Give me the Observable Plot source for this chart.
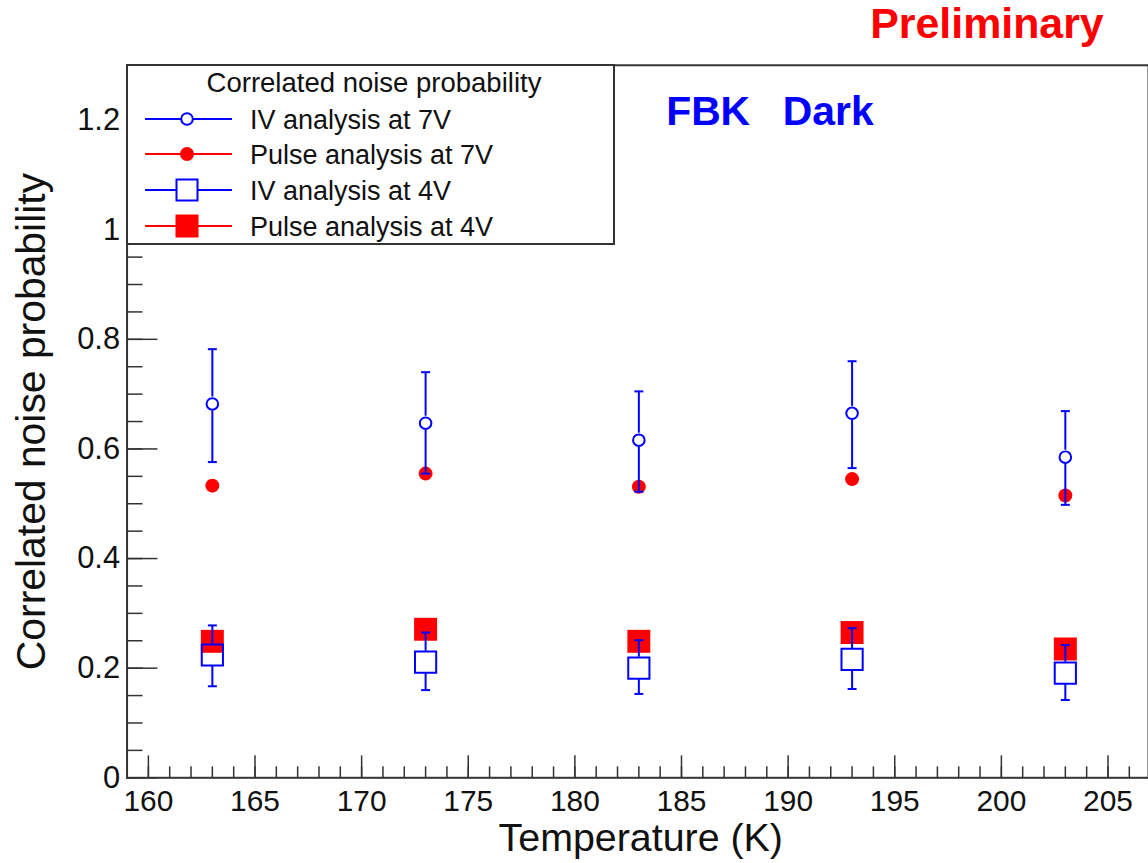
<!DOCTYPE html>
<html><head><meta charset="utf-8">
<script src="https://cdn.jsdelivr.net/npm/d3@7"></script>
<script src="https://cdn.jsdelivr.net/npm/@observablehq/plot@0.6"></script>
<style>
html,body{margin:0;padding:0;background:#fff;}
#wrap{position:relative;width:1148px;height:863px;overflow:hidden;font-family:"Liberation Sans",Arial,sans-serif;}
#chart{position:absolute;left:0;top:0;}
#legend{position:absolute;left:126px;top:64px;}
</style></head><body>
<div id="wrap"><div id="chart"></div><div id="legend"></div></div>
<script>
// ---- data ----
const temperatures = [163, 173, 183, 193, 203];
const ivAt7V      = [0.682, 0.647, 0.616, 0.665, 0.585];
const ivAt7VHigh  = [0.782, 0.740, 0.705, 0.760, 0.669];
const ivAt7VLow   = [0.576, 0.555, 0.522, 0.565, 0.498];
const pulseAt7V   = [0.533, 0.555, 0.531, 0.545, 0.515];
const ivAt4V      = [0.224, 0.211, 0.200, 0.216, 0.191];
const ivAt4VHigh  = [0.278, 0.265, 0.251, 0.273, 0.242];
const ivAt4VLow   = [0.167, 0.160, 0.153, 0.162, 0.142];
const pulseAt4V   = [0.249, 0.271, 0.249, 0.265, 0.235];

const xMajorTicks = [160, 165, 170, 175, 180, 185, 190, 195, 200, 205];
const xMinorTicks = d3.range(160, 207, 1);
const yMajorTicks = [0, 0.2, 0.4, 0.6, 0.8, 1, 1.2];
const yMinorTicks = d3.range(0, 1.2751, 0.05);

const legendTitle = "Correlated noise probability";
const seriesNames = ["IV analysis at 7V", "Pulse analysis at 7V", "IV analysis at 4V", "Pulse analysis at 4V"];
const xTitle = "Temperature (K)";
const yTitle = "Correlated noise probability";

// ---- styles ----
const BLUE = "#0000ff", RED = "#ff0000", AX = "#333";
const W = 1152, H = 863, ML = 127, MR = 0, MT = 65, MB = 83;
const frameW = W - ML - MR, frameH = H - MT - MB;
const FONT = "'Liberation Sans', Arial, Helvetica, sans-serif";

const rows = temperatures.map((t, i) => ({
  t, iv7: ivAt7V[i], iv7hi: ivAt7VHigh[i], iv7lo: ivAt7VLow[i], p7: pulseAt7V[i],
  iv4: ivAt4V[i], iv4hi: ivAt4VHigh[i], iv4lo: ivAt4VLow[i], p4: pulseAt4V[i]
}));

const capSymbol = {draw(ctx, size) { const w = Math.sqrt(size / Math.PI); ctx.moveTo(-w, 0); ctx.lineTo(w, 0); }};

const chart = Plot.plot({
  width: W, height: H,
  marginLeft: ML, marginRight: MR, marginTop: MT, marginBottom: MB,
  x: {domain: [159, 206.9], axis: null},
  y: {domain: [0, 1.3], axis: null},
  style: {fontFamily: FONT, background: "white", color: "#111", overflow: "visible"},
  marks: [
    // inward ticks
    Plot.tickX(xMinorTicks, {x: d => d, stroke: AX, strokeWidth: 1.5, insetTop: frameH - 11}),
    Plot.tickX(xMajorTicks, {x: d => d, stroke: AX, strokeWidth: 1.5, insetTop: frameH - 22}),
    Plot.tickY(yMinorTicks, {y: d => d, stroke: AX, strokeWidth: 1.5, insetRight: frameW - 16}),
    Plot.tickY(yMajorTicks, {y: d => d, stroke: AX, strokeWidth: 1.5, insetRight: frameW - 31}),
    Plot.frame({stroke: AX, strokeWidth: 2}),
    // tick labels
    Plot.text(xMajorTicks, {x: d => d, text: d => String(d), frameAnchor: "bottom", lineAnchor: "middle", dy: 23.5, fontSize: 30, fill: "#111"}),
    Plot.text(yMajorTicks, {y: d => d, text: d => String(d), frameAnchor: "left", textAnchor: "end", lineAnchor: "middle", dx: -7, fontSize: 31, fill: "#111"}),
    // axis titles
    Plot.text([xTitle], {text: d => d, frameAnchor: "bottom", textAnchor: "middle", lineAnchor: "middle", dx: 3, dy: 61, fontSize: 39.5, fill: "#111"}),
    Plot.text([yTitle], {text: d => d, frameAnchor: "left", textAnchor: "middle", rotate: -90, lineAnchor: "middle", dx: -95, fontSize: 41, fill: "#111"}),
    // annotations
    Plot.text(["Preliminary"], {text: d => d, frameAnchor: "top-right", textAnchor: "end", lineAnchor: "middle", dx: -45, dy: -41, fontSize: 43, fontWeight: "bold", fill: RED}),
    Plot.text(["FBK  Dark"], {text: d => d, frameAnchor: "top-left", textAnchor: "start", lineAnchor: "middle", dx: 541, dy: 47, fontSize: 41, fontWeight: "bold", fill: BLUE}),
    // Pulse at 4V (filled red squares)
    Plot.dot(rows, {x: "t", y: "p4", symbol: "square", r: 13, fill: RED, stroke: "none"}),
    // Pulse at 7V (filled red circles)
    Plot.dot(rows, {x: "t", y: "p7", symbol: "circle", r: 7, fill: RED, stroke: "none"}),
    // IV at 7V error bars + open circles
    Plot.ruleX(rows, {x: "t", y1: "iv7hi", y2: "iv7", insetBottom: 7, stroke: BLUE, strokeWidth: 2}),
    Plot.ruleX(rows, {x: "t", y1: "iv7", y2: "iv7lo", insetTop: 7, stroke: BLUE, strokeWidth: 2}),
    Plot.dot(rows, {x: "t", y: "iv7hi", symbol: capSymbol, r: 4.5, stroke: BLUE, strokeWidth: 2, fill: "none"}),
    Plot.dot(rows, {x: "t", y: "iv7lo", symbol: capSymbol, r: 4.5, stroke: BLUE, strokeWidth: 2, fill: "none"}),
    Plot.dot(rows, {x: "t", y: "iv7", symbol: "circle", r: 5.8, stroke: BLUE, strokeWidth: 2, fill: "white"}),
    // IV at 4V error bars + open squares
    Plot.ruleX(rows, {x: "t", y1: "iv4hi", y2: "iv4", insetBottom: 11, stroke: BLUE, strokeWidth: 2}),
    Plot.ruleX(rows, {x: "t", y1: "iv4", y2: "iv4lo", insetTop: 11, stroke: BLUE, strokeWidth: 2}),
    Plot.dot(rows, {x: "t", y: "iv4hi", symbol: capSymbol, r: 4.5, stroke: BLUE, strokeWidth: 2, fill: "none"}),
    Plot.dot(rows, {x: "t", y: "iv4lo", symbol: capSymbol, r: 4.5, stroke: BLUE, strokeWidth: 2, fill: "none"}),
    Plot.dot(rows, {x: "t", y: "iv4", symbol: "square", r: 12, stroke: BLUE, strokeWidth: 2, fill: "none"})
  ]
});
document.getElementById("chart").appendChild(chart);
// widen the gap between the two words of the in-frame label
d3.select(chart).selectAll("text").filter(function() { return this.textContent === "FBK  Dark"; })
  .style("word-spacing", "5px").style("white-space", "pre");

// ---- legend (overlay box) ----
const lw = 489, lh = 181;
const lsvg = d3.select("#legend").append("svg").attr("width", lw).attr("height", lh)
  .style("font-family", FONT).style("display", "block");
lsvg.append("rect").attr("x", 1).attr("y", 1).attr("width", 487).attr("height", 179)
  .attr("fill", "white").attr("stroke", AX).attr("stroke-width", 2);
lsvg.append("text").attr("x", 248).attr("y", 28).attr("text-anchor", "middle")
  .attr("font-size", 27.5).attr("fill", "#111").text(legendTitle);
const entryY = [55, 90, 126, 162];
const entryColor = [BLUE, RED, BLUE, RED];
seriesNames.forEach((name, i) => {
  const g = lsvg.append("g").attr("transform", `translate(0,${entryY[i]})`);
  g.append("line").attr("x1", 19).attr("x2", 106).attr("y1", 0).attr("y2", 0)
    .attr("stroke", entryColor[i]).attr("stroke-width", 2);
  if (i === 0) g.append("circle").attr("cx", 61).attr("cy", 0).attr("r", 5.8).attr("fill", "white").attr("stroke", BLUE).attr("stroke-width", 2);
  if (i === 1) g.append("circle").attr("cx", 61).attr("cy", 0).attr("r", 7).attr("fill", RED);
  if (i === 2) g.append("rect").attr("x", 61 - 10.5).attr("y", -10.5).attr("width", 21).attr("height", 21).attr("fill", "white").attr("stroke", BLUE).attr("stroke-width", 2);
  if (i === 3) g.append("rect").attr("x", 61 - 11.5).attr("y", -11.5).attr("width", 23).attr("height", 23).attr("fill", RED);
  g.append("text").attr("x", 124).attr("y", 9.5).attr("font-size", 27).attr("fill", "#111").text(name);
});
</script>
</body></html>
